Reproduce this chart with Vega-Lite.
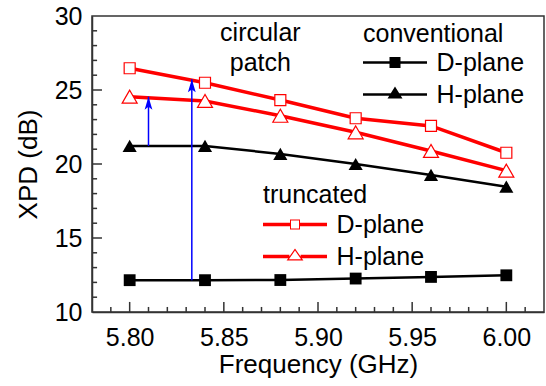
{
  "$schema": "https://vega.github.io/schema/vega-lite/v6.json",
  "width": 452,
  "height": 296,
  "autosize": {"type": "none"},
  "padding": {"left": 92, "top": 16, "right": 2, "bottom": 74},
  "background": "white",
  "config": {
    "font": "Liberation Sans",
    "view": {"stroke": "#333333", "strokeWidth": 1.5},
    "axis": {
      "grid": false,
      "domainColor": "#333333",
      "domainWidth": 1.5,
      "tickColor": "#333333",
      "tickWidth": 1.5,
      "labelColor": "black",
      "titleColor": "black",
      "labelFont": "Liberation Sans",
      "titleFont": "Liberation Sans",
      "labelFontSize": 25,
      "titleFontSize": 26,
      "titleFontWeight": "normal"
    },
    "legend": {
      "orient": "none",
      "padding": 0,
      "labelFont": "Liberation Sans",
      "titleFont": "Liberation Sans",
      "labelFontSize": 25,
      "titleFontSize": 25,
      "titleFontWeight": "normal",
      "labelColor": "black",
      "titleColor": "black",
      "symbolSize": 625,
      "symbolOffset": 19.5,
      "labelOffset": 29,
      "rowPadding": 6,
      "titlePadding": 3,
      "symbolStrokeWidth": 0,
      "symbolStrokeColor": "transparent",
      "symbolOpacity": 1
    }
  },
  "datasets": {
    "xpd": [
      {"freq": 5.80, "xpd": 12.15, "design": "conventional", "plane": "D-plane"},
      {"freq": 5.84, "xpd": 12.15, "design": "conventional", "plane": "D-plane"},
      {"freq": 5.88, "xpd": 12.16, "design": "conventional", "plane": "D-plane"},
      {"freq": 5.92, "xpd": 12.26, "design": "conventional", "plane": "D-plane"},
      {"freq": 5.96, "xpd": 12.37, "design": "conventional", "plane": "D-plane"},
      {"freq": 6.00, "xpd": 12.48, "design": "conventional", "plane": "D-plane"},
      {"freq": 5.80, "xpd": 21.22, "design": "conventional", "plane": "H-plane"},
      {"freq": 5.84, "xpd": 21.22, "design": "conventional", "plane": "H-plane"},
      {"freq": 5.88, "xpd": 20.68, "design": "conventional", "plane": "H-plane"},
      {"freq": 5.92, "xpd": 20.0, "design": "conventional", "plane": "H-plane"},
      {"freq": 5.96, "xpd": 19.26, "design": "conventional", "plane": "H-plane"},
      {"freq": 6.00, "xpd": 18.47, "design": "conventional", "plane": "H-plane"},
      {"freq": 5.80, "xpd": 26.47, "design": "truncated", "plane": "D-plane"},
      {"freq": 5.84, "xpd": 25.49, "design": "truncated", "plane": "D-plane"},
      {"freq": 5.88, "xpd": 24.32, "design": "truncated", "plane": "D-plane"},
      {"freq": 5.92, "xpd": 23.09, "design": "truncated", "plane": "D-plane"},
      {"freq": 5.96, "xpd": 22.57, "design": "truncated", "plane": "D-plane"},
      {"freq": 6.00, "xpd": 20.76, "design": "truncated", "plane": "D-plane"},
      {"freq": 5.80, "xpd": 24.55, "design": "truncated", "plane": "H-plane"},
      {"freq": 5.84, "xpd": 24.26, "design": "truncated", "plane": "H-plane"},
      {"freq": 5.88, "xpd": 23.26, "design": "truncated", "plane": "H-plane"},
      {"freq": 5.92, "xpd": 22.14, "design": "truncated", "plane": "H-plane"},
      {"freq": 5.96, "xpd": 20.88, "design": "truncated", "plane": "H-plane"},
      {"freq": 6.00, "xpd": 19.55, "design": "truncated", "plane": "H-plane"}
    ],
    "arrows": [
      {"freq": 5.81, "xpd": 21.22, "xpd2": 24.55},
      {"freq": 5.833, "xpd": 12.15, "xpd2": 25.72}
    ],
    "xticks": [
      {"v": 5.79, "kind": "minor"}, {"v": 5.80, "kind": "major"},
      {"v": 5.81, "kind": "minor"}, {"v": 5.82, "kind": "minor"}, {"v": 5.83, "kind": "minor"},
      {"v": 5.84, "kind": "minor"}, {"v": 5.85, "kind": "major"}, {"v": 5.86, "kind": "minor"},
      {"v": 5.87, "kind": "minor"}, {"v": 5.88, "kind": "minor"}, {"v": 5.89, "kind": "minor"},
      {"v": 5.90, "kind": "major"}, {"v": 5.91, "kind": "minor"}, {"v": 5.92, "kind": "minor"},
      {"v": 5.93, "kind": "minor"}, {"v": 5.94, "kind": "minor"}, {"v": 5.95, "kind": "major"},
      {"v": 5.96, "kind": "minor"}, {"v": 5.97, "kind": "minor"}, {"v": 5.98, "kind": "minor"},
      {"v": 5.99, "kind": "minor"}, {"v": 6.00, "kind": "major"}, {"v": 6.01, "kind": "minor"}
    ],
    "yticks": [
      {"v": 11, "kind": "minor"}, {"v": 12, "kind": "minor"}, {"v": 13, "kind": "minor"}, {"v": 14, "kind": "minor"},
      {"v": 15, "kind": "major"}, {"v": 16, "kind": "minor"}, {"v": 17, "kind": "minor"}, {"v": 18, "kind": "minor"},
      {"v": 19, "kind": "minor"}, {"v": 20, "kind": "major"}, {"v": 21, "kind": "minor"}, {"v": 22, "kind": "minor"},
      {"v": 23, "kind": "minor"}, {"v": 24, "kind": "minor"}, {"v": 25, "kind": "major"}, {"v": 26, "kind": "minor"},
      {"v": 27, "kind": "minor"}, {"v": 28, "kind": "minor"}, {"v": 29, "kind": "minor"}
    ]
  },
  "layer": [
    {
      "layer": [
        {
          "data": {"name": "xpd"},
          "transform": [{"filter": "datum.design === 'truncated'"}],
          "mark": {"type": "line", "strokeWidth": 3.5, "color": "#ff0000"},
          "encoding": {
            "x": {
              "field": "freq", "type": "quantitative",
              "scale": {"domain": [5.78, 6.02], "nice": false, "zero": false},
              "axis": {
                "orient": "bottom",
                "values": [5.80, 5.85, 5.90, 5.95, 6.00],
                "format": ".2f",
                "tickSize": 0,
                "labelPadding": 13.5,
                "title": "Frequency (GHz)",
                "titlePadding": 1
              }
            },
            "y": {
              "field": "xpd", "type": "quantitative",
              "scale": {"domain": [10, 30], "nice": false, "zero": false},
              "axis": {
                "orient": "left",
                "values": [10, 15, 20, 25, 30],
                "format": "d",
                "tickSize": 0,
                "labelPadding": 10,
                "title": "XPD (dB)",
                "titlePadding": 13
              }
            },
            "detail": {"field": "plane"}
          }
        },
        {
          "data": {"name": "xpd"},
          "transform": [{"filter": "datum.design === 'conventional'"}],
          "mark": {"type": "line", "strokeWidth": 2.5, "color": "#000000"},
          "encoding": {
            "x": {"field": "freq", "type": "quantitative"},
            "y": {"field": "xpd", "type": "quantitative"},
            "detail": {"field": "plane"}
          }
        },
        {
          "data": {"name": "xticks"},
          "transform": [{"filter": "datum.kind === 'major'"}],
          "mark": {"type": "rule", "color": "#333333", "strokeWidth": 1.5},
          "encoding": {
            "x": {"field": "v", "type": "quantitative"},
            "y": {"datum": 10},
            "y2": {"datum": 10.68}
          }
        },
        {
          "data": {"name": "xticks"},
          "transform": [{"filter": "datum.kind === 'minor'"}],
          "mark": {"type": "rule", "color": "#333333", "strokeWidth": 1.5},
          "encoding": {
            "x": {"field": "v", "type": "quantitative"},
            "y": {"datum": 10},
            "y2": {"datum": 10.34}
          }
        },
        {
          "data": {"name": "yticks"},
          "transform": [{"filter": "datum.kind === 'major'"}],
          "mark": {"type": "rule", "color": "#333333", "strokeWidth": 1.5},
          "encoding": {
            "y": {"field": "v", "type": "quantitative"},
            "x": {"datum": 5.78},
            "x2": {"datum": 5.7853}
          }
        },
        {
          "data": {"name": "yticks"},
          "transform": [{"filter": "datum.kind === 'minor'"}],
          "mark": {"type": "rule", "color": "#333333", "strokeWidth": 1.5},
          "encoding": {
            "y": {"field": "v", "type": "quantitative"},
            "x": {"datum": 5.78},
            "x2": {"datum": 5.7827}
          }
        },
        {
          "data": {"name": "xpd"},
          "transform": [{"filter": "datum.design === 'conventional'"}],
          "mark": {"type": "point", "filled": true, "color": "#000000", "opacity": 1},
          "encoding": {
            "x": {"field": "freq", "type": "quantitative"},
            "y": {"field": "xpd", "type": "quantitative"},
            "shape": {"field": "plane", "type": "nominal", "scale": {"domain": ["D-plane", "H-plane"], "range": ["square", "triangle-up"]}, "legend": null},
            "size": {"field": "plane", "type": "ordinal", "scale": {"domain": ["D-plane", "H-plane"], "range": [140, 200]}, "legend": null}
          }
        },
        {
          "data": {"name": "xpd"},
          "transform": [{"filter": "datum.design === 'truncated'"}],
          "mark": {"type": "point", "fill": "#ffffff", "stroke": "#ff0000", "strokeWidth": 1.2, "opacity": 1},
          "encoding": {
            "x": {"field": "freq", "type": "quantitative"},
            "y": {"field": "xpd", "type": "quantitative"},
            "shape": {"field": "plane", "type": "nominal", "scale": {"domain": ["D-plane", "H-plane"], "range": ["square", "triangle-up"]}, "legend": null},
            "size": {"field": "plane", "type": "ordinal", "scale": {"domain": ["D-plane", "H-plane"], "range": [121, 225]}, "legend": null}
          }
        },
        {
          "data": {"name": "xpd"},
          "transform": [{"filter": "datum.design === 'conventional'"}],
          "mark": {"type": "point", "filled": true, "color": "#000000", "opacity": 0},
          "encoding": {
            "x": {"field": "freq", "type": "quantitative"},
            "y": {"field": "xpd", "type": "quantitative"},
            "shape": {
              "field": "plane", "type": "nominal",
              "scale": {"domain": ["D-plane", "H-plane"], "range": ["M-2.56,-0.1H2.56V0.1H-2.56ZM-0.44,-0.44H0.44V0.44H-0.44Z", "M-2.56,-0.1H2.56V0.1H-2.56ZM0,-0.64L0.6,0.32H-0.6Z"]},
              "legend": {"title": "conventional", "legendX": 271, "legendY": 6, "symbolOpacity": 1, "symbolFillColor": "#000000"}
            }
          }
        },
        {
          "data": {"name": "xpd"},
          "transform": [{"filter": "datum.design === 'truncated'"}],
          "mark": {"type": "point", "filled": true, "color": "#ff0000", "opacity": 0},
          "encoding": {
            "x": {"field": "freq", "type": "quantitative"},
            "y": {"field": "xpd", "type": "quantitative"},
            "shape": {
              "field": "plane", "type": "nominal",
              "scale": {"domain": ["D-plane", "H-plane"], "range": ["M-2.56,-0.14H-0.4V0.14H-2.56ZM0.4,-0.14H2.56V0.14H0.4ZM-0.4,-0.4H0.4V0.4H-0.4ZM-0.32,-0.32V0.32H0.32V-0.32Z", "M-2.56,-0.14H-0.45V0.14H-2.56ZM0.45,-0.14H2.56V0.14H0.45ZM0,-0.64L0.672,0.32H-0.672ZM0,-0.472L-0.487,0.224H0.487Z"]},
              "legend": {"title": "truncated", "legendX": 171, "legendY": 167, "titlePadding": 4, "symbolOpacity": 1, "symbolFillColor": "#ff0000"}
            }
          }
        }
      ],
      "resolve": {"scale": {"shape": "independent", "size": "independent"}}
    },
    {
      "data": {"values": [{}]},
      "mark": {"type": "text", "text": ["circular", "patch"], "fontSize": 25, "align": "center", "baseline": "alphabetic", "lineHeight": 30.5, "color": "black", "font": "Liberation Sans"},
      "encoding": {
        "x": {"datum": 5.8694, "type": "quantitative", "scale": {"domain": [5.78, 6.02], "nice": false, "zero": false}, "axis": null},
        "y": {"datum": 28.33, "type": "quantitative", "scale": {"domain": [10, 30], "nice": false, "zero": false}, "axis": null}
      }
    },
    {
      "data": {"name": "arrows"},
      "layer": [
        {
          "mark": {"type": "rule", "color": "#0000ff", "strokeWidth": 1.5},
          "encoding": {
            "x": {"field": "freq", "type": "quantitative", "axis": null},
            "y": {"field": "xpd", "type": "quantitative", "axis": null},
            "y2": {"field": "xpd2"}
          }
        },
        {
          "mark": {"type": "point", "shape": "M0,0L0.3,1L0,0.78L-0.3,1Z", "filled": true, "color": "#0000ff", "size": 676, "opacity": 1},
          "encoding": {
            "x": {"field": "freq", "type": "quantitative", "axis": null},
            "y": {"field": "xpd2", "type": "quantitative", "axis": null}
          }
        }
      ]
    }
  ],
  "resolve": {"axis": {"x": "independent", "y": "independent"}, "scale": {"shape": "independent", "size": "independent"}}
}
